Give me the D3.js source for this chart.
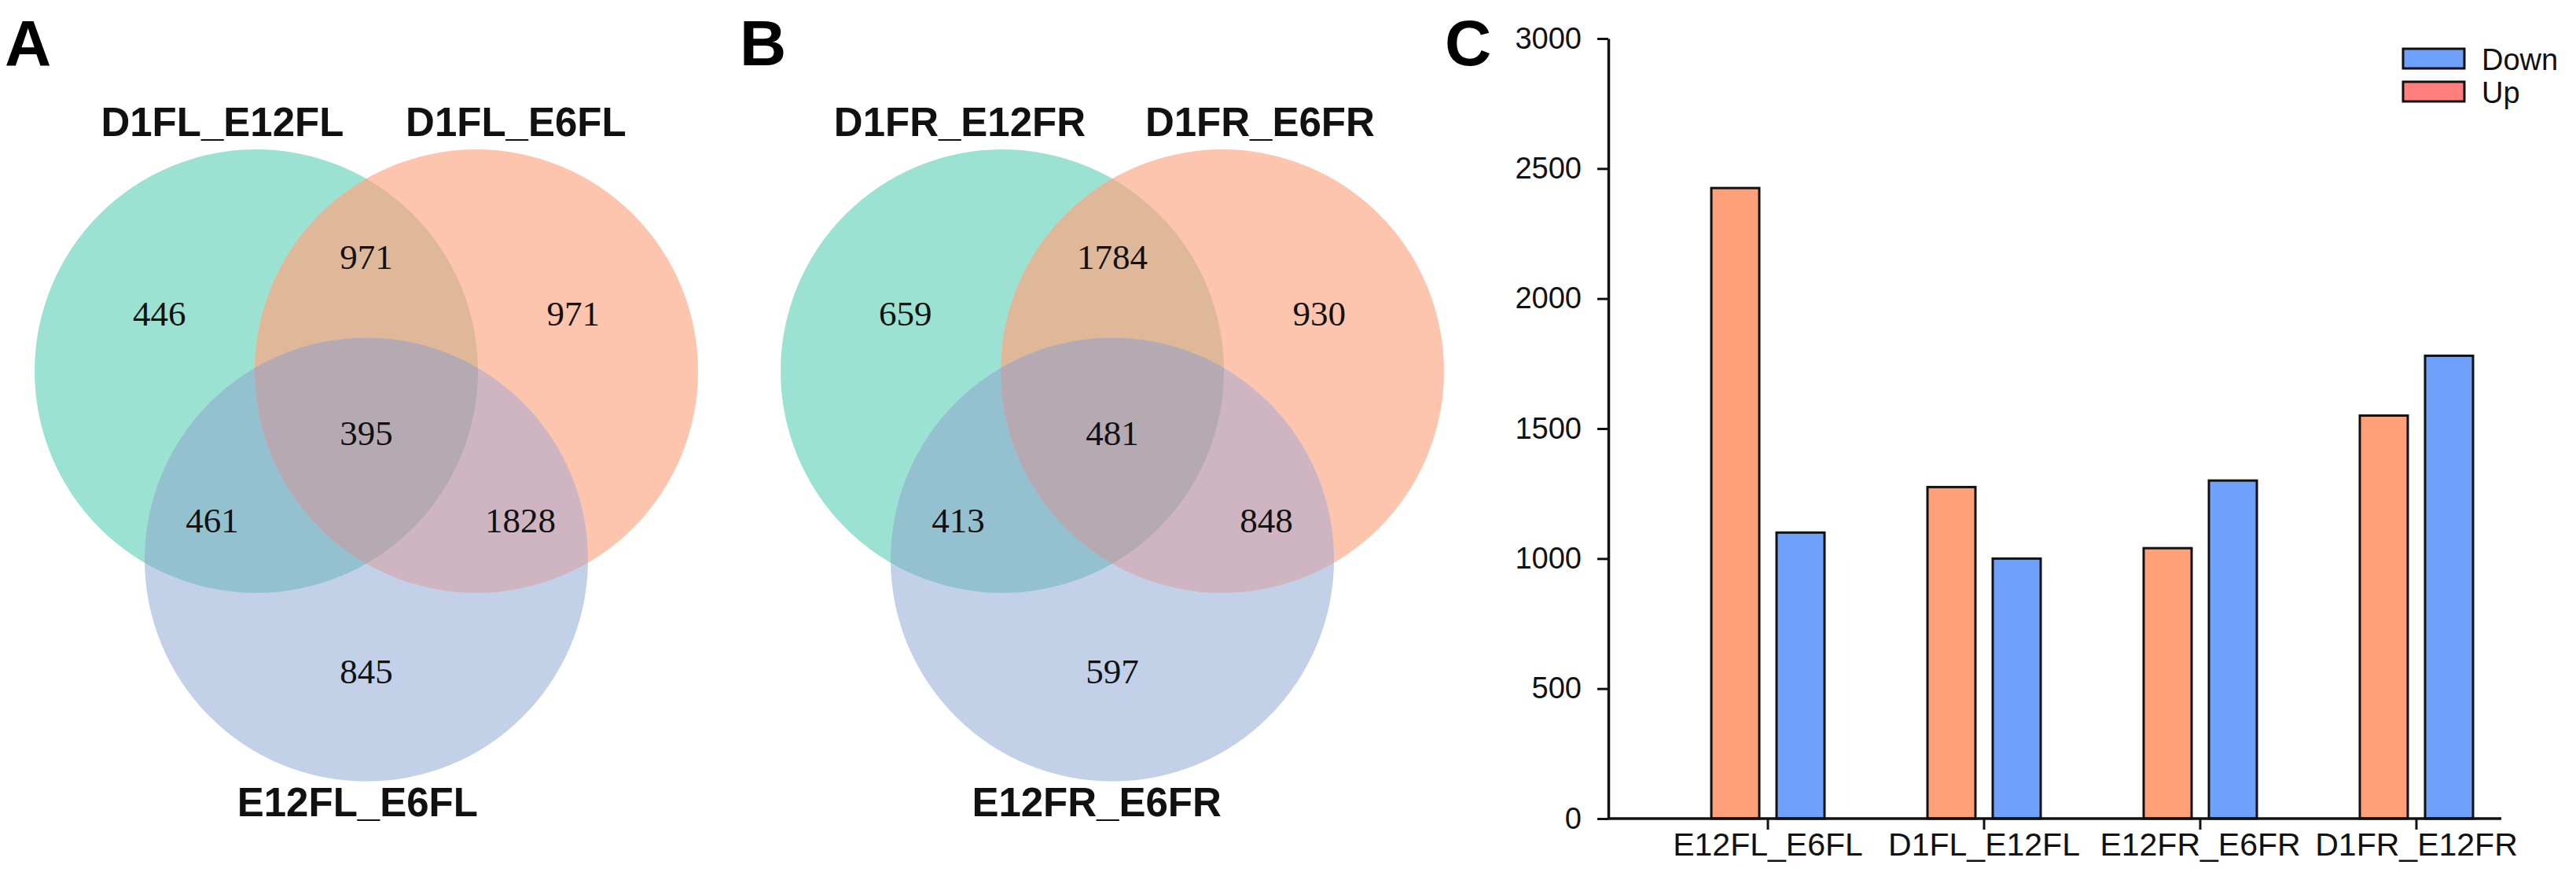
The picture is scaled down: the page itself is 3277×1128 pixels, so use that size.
<!DOCTYPE html>
<html>
<head>
<meta charset="utf-8">
<script src="https://cdn.jsdelivr.net/npm/d3@7"></script>
<style>
  body { margin: 0; background: #fff; }
  svg { display: block; }
</style>
</head>
<body>
<div id="figure"></div>
<script>
// Venn data: region order = only1, 1&2, only2, all three, 1&3, 2&3, only3
const vennSetsA = ["D1FL_E12FL", "D1FL_E6FL", "E12FL_E6FL"];
const vennCountsA = [446, 971, 971, 395, 461, 1828, 845];
const vennSetsB = ["D1FR_E12FR", "D1FR_E6FR", "E12FR_E6FR"];
const vennCountsB = [659, 1784, 930, 481, 413, 848, 597];

// bar chart data
const barCategories = ["E12FL_E6FL", "D1FL_E12FL", "E12FR_E6FR", "D1FR_E12FR"];
const upValues = [2425, 1275, 1040, 1550];
const downValues = [1100, 1000, 1300, 1780];
const yTicks = [0, 500, 1000, 1500, 2000, 2500, 3000];
const legendLabels = ["Down", "Up"];

const sans = "'Liberation Sans', Arial, sans-serif";
const serif = "'Liberation Serif', 'Times New Roman', serif";

const svg = d3.select("#figure").append("svg")
    .attr("width", 3277)
    .attr("height", 1128);

svg.append("rect").attr("width", 3277).attr("height", 1128).attr("fill", "#fff");

// panel letters
[["A", 6], ["B", 941], ["C", 1838]].forEach(p => {
    svg.append("text")
        .attr("x", p[1]).attr("y", 83)
        .attr("font-family", sans).attr("font-weight", "bold")
        .attr("font-size", 82)
        .text(p[0]);
});

// ---------- Venn diagrams ----------
// circle centres and label spots in units of the centre spacing
const circleUnits = [[0, 0], [1, 0], [0.5, 0.856]];
const regionUnits = [[-0.44, -0.207], [0.5, -0.464], [1.44, -0.207], [0.5, 0.336],
                     [-0.2, 0.732], [1.2, 0.732], [0.5, 1.418]];
const vennFills = ["#9ce2d3", "#fec5ae", "#c2d0e8"];
const pairFills = { go: "#dfb899", gb: "#93c1cf", ob: "#cfb5c1", all: "#b5aab2" };

function drawVenn(id, x0, sets, counts, setLabelUnits) {
    const x = d3.scaleLinear().domain([0, 1]).range([x0, x0 + 280]);
    const y = d3.scaleLinear().domain([0, 1]).range([472, 752]);
    const r = 282;
    const g = svg.append("g");
    const defs = g.append("defs");

    circleUnits.forEach((c, i) => {
        defs.append("clipPath").attr("id", id + "c" + i)
            .append("circle").attr("cx", x(c[0])).attr("cy", y(c[1])).attr("r", r);
    });

    function circ(parent, i, fill) {
        parent.append("circle")
            .attr("cx", x(circleUnits[i][0]))
            .attr("cy", y(circleUnits[i][1]))
            .attr("r", r)
            .attr("fill", fill);
    }

    // plain circles, then each overlap painted in its own colour
    circleUnits.forEach((c, i) => circ(g, i, vennFills[i]));
    circ(g.append("g").attr("clip-path", `url(#${id}c0)`), 1, pairFills.go);
    circ(g.append("g").attr("clip-path", `url(#${id}c0)`), 2, pairFills.gb);
    circ(g.append("g").attr("clip-path", `url(#${id}c1)`), 2, pairFills.ob);
    circ(g.append("g").attr("clip-path", `url(#${id}c0)`)
          .append("g").attr("clip-path", `url(#${id}c1)`), 2, pairFills.all);

    g.selectAll("text.count")
        .data(counts)
        .join("text")
        .attr("class", "count")
        .attr("x", (d, i) => x(regionUnits[i][0]))
        .attr("y", (d, i) => y(regionUnits[i][1]))
        .attr("text-anchor", "middle")
        .attr("font-family", serif)
        .attr("font-size", 45)
        .attr("fill", "#111")
        .text(d => d);

    g.selectAll("text.set")
        .data(sets)
        .join("text")
        .attr("class", "set")
        .attr("x", (d, i) => x(setLabelUnits[i][0]))
        .attr("y", (d, i) => y(setLabelUnits[i][1]))
        .attr("text-anchor", "middle")
        .attr("font-family", sans)
        .attr("font-weight", "bold")
        .attr("font-size", 51)
        .attr("fill", "#111")
        .text(d => d);
}

drawVenn("va", 326, vennSetsA, vennCountsA, [[-0.154, -1.068], [1.18, -1.068], [0.46, 2.021]]);
drawVenn("vb", 1275, vennSetsB, vennCountsB, [[-0.193, -1.068], [1.171, -1.068], [0.429, 2.021]]);

// ---------- Bar chart ----------
const y = d3.scaleLinear().domain([0, 3000]).range([1041, 49]);
const x = d3.scaleBand().domain(barCategories).range([2111.5, 3211.5]);
const sub = d3.scaleBand().domain(["Up", "Down"]).range([-72, 72]).paddingInner(0.265);
const barFill = { Up: "#ffa07a", Down: "#6fa1fc" };
const legendFill = { Down: "#6fa1fc", Up: "#ff7f7f" };
const axisX = 2046;

const bars = svg.append("g");
const barData = [];
barCategories.forEach((c, i) => {
    barData.push({ cat: c, key: "Up", value: upValues[i] });
    barData.push({ cat: c, key: "Down", value: downValues[i] });
});

bars.selectAll("rect")
    .data(barData)
    .join("rect")
    .attr("x", d => x(d.cat) + x.bandwidth() / 2 + sub(d.key))
    .attr("y", d => y(d.value))
    .attr("width", sub.bandwidth())
    .attr("height", d => y(0) - y(d.value))
    .attr("fill", d => barFill[d.key])
    .attr("stroke", "#111")
    .attr("stroke-width", 3);

// y axis
const yAxis = svg.append("g")
    .attr("transform", `translate(${axisX},0)`)
    .call(d3.axisLeft(y).tickValues(yTicks).tickFormat(d3.format("d"))
        .tickSize(14).tickSizeOuter(0).tickPadding(20));
yAxis.select(".domain").attr("stroke", "#111").attr("stroke-width", 3.5);
yAxis.selectAll(".tick line").attr("stroke", "#111").attr("stroke-width", 3);
yAxis.selectAll(".tick text")
    .attr("font-family", sans).attr("font-size", 38).attr("fill", "#111");

// x axis
const xAxis = svg.append("g")
    .attr("transform", `translate(0,${y(0)})`)
    .call(d3.axisBottom(x).tickSize(14).tickPadding(4));
xAxis.select(".domain").remove();
xAxis.append("line")
    .attr("x1", axisX).attr("x2", 3182)
    .attr("stroke", "#111").attr("stroke-width", 3.5);
xAxis.selectAll(".tick line").attr("stroke", "#111").attr("stroke-width", 3);
xAxis.selectAll(".tick text")
    .attr("font-family", sans).attr("font-size", 41).attr("fill", "#111");

// legend
const legend = svg.append("g").attr("transform", "translate(3057,62)");
legend.selectAll("rect")
    .data(legendLabels)
    .join("rect")
    .attr("x", 0)
    .attr("y", (d, i) => i * 42)
    .attr("width", 78)
    .attr("height", 25)
    .attr("fill", d => legendFill[d])
    .attr("stroke", "#111")
    .attr("stroke-width", 3);
legend.selectAll("text")
    .data(legendLabels)
    .join("text")
    .attr("x", 100)
    .attr("y", (d, i) => i * 42 + 27)
    .attr("font-family", sans)
    .attr("font-size", 38)
    .attr("fill", "#111")
    .text(d => d);
</script>
</body>
</html>
